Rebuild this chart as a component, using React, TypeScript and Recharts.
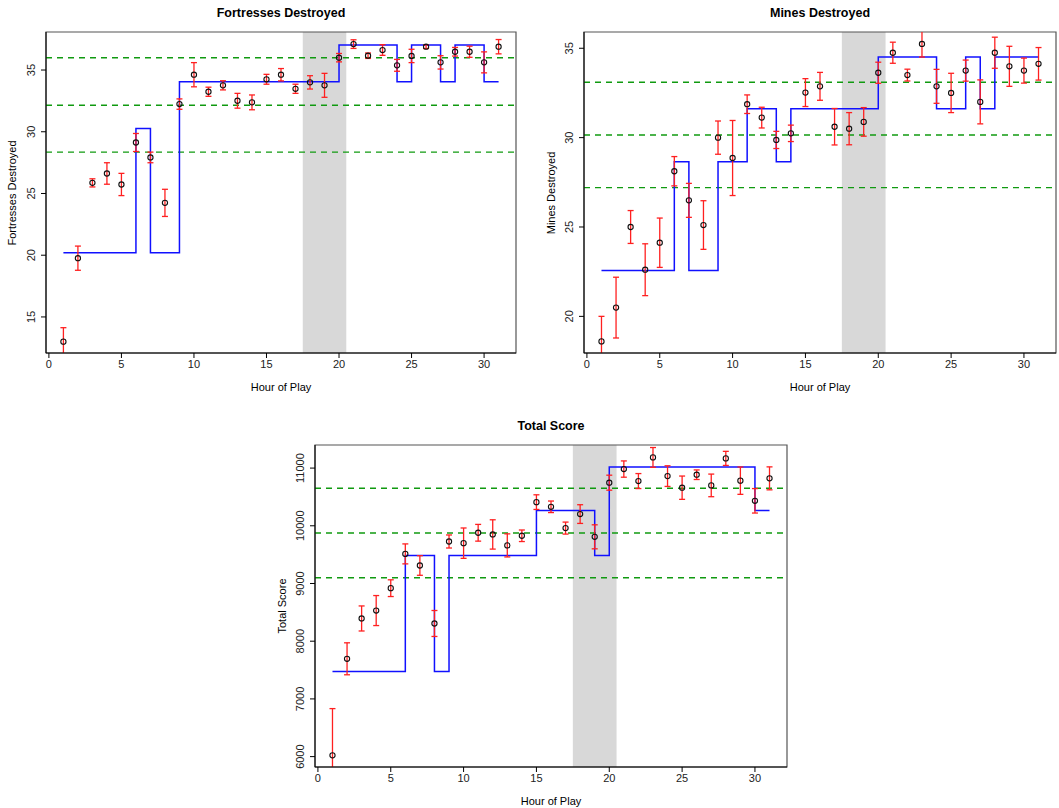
import {
  ComposedChart,
  Scatter,
  ErrorBar,
  Line,
  XAxis,
  YAxis,
  ReferenceLine,
  ReferenceArea,
} from 'recharts'

const hours = [
  1, 2, 3, 4, 5, 6, 7, 8, 9, 10, 11, 12, 13, 14, 15, 16, 17, 18, 19, 20, 21, 22, 23, 24, 25, 26, 27,
  28, 29, 30, 31,
]
const hourTicks = [0, 5, 10, 15, 20, 25, 30]
const hourDomain = [-0.2, 32.2]
const shadedHours = [17.5, 20.5]

// Fortresses destroyed
const fortMean = [
  13.0, 19.76, 25.86, 26.62, 25.73, 29.13, 27.92, 24.24, 32.24, 34.62, 33.24, 33.76, 32.51, 32.38,
  34.25, 34.62, 33.48, 34.0, 33.76, 36.0, 37.1, 36.16, 36.62, 35.38, 36.14, 36.89, 35.62, 36.48,
  36.48, 35.62, 36.89,
]
const fortErr = [
  1.13, 0.98, 0.33, 0.87, 0.9, 0.73, 0.43, 1.1, 0.42, 0.98, 0.37, 0.37, 0.6, 0.6, 0.4, 0.5, 0.37,
  0.54, 0.97, 0.34, 0.35, 0.22, 0.43, 0.48, 0.54, 0.15, 0.54, 0.35, 0.45, 0.85, 0.58,
]
const fortStepHours = [1, 6, 7, 9, 20, 24, 25, 27, 28, 30, 31]
const fortStepLevels = [20.2, 30.27, 20.2, 34.05, 37.03, 34.05, 37.03, 34.05, 37.03, 34.05, 34.05]
const fortRefs = [36.0, 32.15, 28.35]
const fortTicks = [15, 20, 25, 30, 35]

// Mines destroyed
const minesMean = [
  18.6, 20.49, 25.0, 22.61, 24.12, 28.12, 26.49, 25.11, 30.0, 28.86, 31.87, 31.12, 29.87, 30.24,
  32.52, 32.87, 30.61, 30.5, 30.88, 33.63, 34.75, 33.5, 35.24, 32.87, 32.5, 33.75, 32.0, 34.75,
  33.99, 33.75, 34.13,
]
const minesErr = [
  1.4, 1.7, 0.92, 1.45, 1.38, 0.82, 0.95, 1.36, 0.93, 2.1, 0.52, 0.58, 0.48, 0.46, 0.78, 0.78, 1.02,
  0.9, 0.8, 0.59, 0.59, 0.33, 0.73, 0.95, 1.1, 0.59, 1.23, 0.87, 1.12, 0.7, 0.91,
]
const minesStepHours = [1, 6, 7, 9, 11, 13, 14, 20, 24, 26, 27, 28, 31]
const minesStepLevels = [
  22.57, 28.65, 22.57, 28.65, 31.62, 28.65, 31.62, 34.51, 31.62, 34.51, 31.62, 34.51, 34.51,
]
const minesRefs = [33.1, 30.15, 27.2]
const minesTicks = [20, 25, 30, 35]

// Total score
const scoreMean = [
  6022, 7695, 8394, 8531, 8919, 9513, 9312, 8307, 9728, 9699, 9879, 9850, 9660, 9827, 10410, 10329,
  9960, 10203, 9809, 10747, 10983, 10775, 11185, 10861, 10660, 10885, 10700, 11168, 10782, 10433,
  10822,
]
const scoreErr = [
  810, 277, 217, 260, 145, 173, 170, 225, 113, 263, 145, 254, 200, 100, 127, 100, 104, 162, 208, 130,
  141, 130, 171, 179, 202, 83, 196, 122, 237, 212, 199,
]
const scoreStepHours = [1, 6, 8, 9, 15, 19, 20, 30, 31]
const scoreStepLevels = [7475, 9485, 7475, 9485, 10267, 9485, 11017, 10267, 10267]
const scoreRefs = [10650, 9875, 9100]
const scoreTicks = [6000, 7000, 8000, 9000, 10000, 11000]

const FONT = '"Liberation Sans", Arial, Helvetica, sans-serif'
const ERR_COLOR = '#ff2020'

const YTick = (props: any) => {
  const { x, y, payload } = props
  const bx = x - 6
  return (
    <text
      x={bx}
      y={y}
      transform={`rotate(-90 ${bx} ${y})`}
      textAnchor="middle"
      fontSize={11}
      fill="#222"
      fontFamily={FONT}
    >
      {payload.value}
    </text>
  )
}

const Dot = (props: any) => (
  <circle cx={props.cx} cy={props.cy} r={2.6} fill="none" stroke="#111" strokeWidth={1.1} />
)

type PanelProps = {
  id: string
  left: number
  top: number
  width: number
  height: number
  marginTop: number
  marginRight: number
  yAxisWidth: number
  xAxisHeight: number
  title: string
  yLabel: string
  yLabelX: number
  mean: number[]
  err: number[]
  stepHours: number[]
  stepLevels: number[]
  refs: number[]
  yDomain: number[]
  yTicks: number[]
}

function Panel(p: PanelProps) {
  const points = hours.map((h, i) => ({ hour: h, mean: p.mean[i], err: p.err[i] }))
  const steps = p.stepHours.map((h, i) => ({ hour: h, level: p.stepLevels[i] }))
  const plotLeft = p.left + p.yAxisWidth
  const plotRight = p.left + p.width - p.marginRight
  const plotTop = p.top + p.marginTop
  const plotBottom = p.top + p.height - p.xAxisHeight
  const cx = (plotLeft + plotRight) / 2
  const cy = (plotTop + plotBottom) / 2
  const clipId = `${p.id}-errclip`

  // error bars are clipped to the plot box, like the original
  const css = `#${p.id} .recharts-errorBar, #${p.id} .recharts-errorBars, #${p.id} line[stroke="${ERR_COLOR}"] { clip-path: url(#${clipId}); }`

  return (
    <>
      <style>{css}</style>
      <svg width={0} height={0} style={{ position: 'absolute' }}>
        <defs>
          <clipPath id={clipId} clipPathUnits="userSpaceOnUse">
            <rect
              x={p.yAxisWidth}
              y={p.marginTop}
              width={plotRight - plotLeft}
              height={plotBottom - plotTop}
            />
          </clipPath>
        </defs>
      </svg>
      <div
        style={{
          position: 'absolute',
          left: cx,
          top: plotTop - 19,
          transform: 'translate(-50%, -50%)',
          fontFamily: FONT,
          fontSize: 12.5,
          fontWeight: 'bold',
          whiteSpace: 'nowrap',
        }}
      >
        {p.title}
      </div>
      <div
        style={{
          position: 'absolute',
          left: cx,
          top: plotBottom + 34,
          transform: 'translate(-50%, -50%)',
          fontFamily: FONT,
          fontSize: 11,
          whiteSpace: 'nowrap',
        }}
      >
        Hour of Play
      </div>
      <div
        style={{
          position: 'absolute',
          left: p.yLabelX,
          top: cy,
          transform: 'translate(-50%, -50%) rotate(-90deg)',
          fontFamily: FONT,
          fontSize: 11,
          whiteSpace: 'nowrap',
        }}
      >
        {p.yLabel}
      </div>
      <div id={p.id} style={{ position: 'absolute', left: p.left, top: p.top }}>
        <ComposedChart
          width={p.width}
          height={p.height}
          margin={{ top: p.marginTop, right: p.marginRight, bottom: 0, left: 0 }}
          style={{ fontFamily: FONT }}
        >
          <XAxis
            dataKey="hour"
            type="number"
            domain={hourDomain}
            ticks={hourTicks}
            interval={0}
            allowDataOverflow
            height={p.xAxisHeight}
            tickSize={5}
            tickMargin={2}
            tick={{ fontSize: 11, fill: '#222' }}
            axisLine={{ stroke: '#000' }}
            tickLine={{ stroke: '#000' }}
          />
          <YAxis
            type="number"
            domain={p.yDomain}
            ticks={p.yTicks}
            interval={0}
            allowDataOverflow
            width={p.yAxisWidth}
            tickSize={5}
            tickMargin={0}
            tick={<YTick />}
            axisLine={{ stroke: '#000' }}
            tickLine={{ stroke: '#000' }}
          />
          <ReferenceArea
            x1={shadedHours[0]}
            x2={shadedHours[1]}
            fill="#d8d8d8"
            fillOpacity={1}
            stroke="none"
          />
          {p.refs.map((v) => (
            <ReferenceLine
              key={v}
              y={v}
              stroke="#109a10"
              strokeWidth={1.4}
              strokeDasharray="6 5"
            />
          ))}
          <Line
            data={steps}
            dataKey="level"
            type="stepAfter"
            stroke="#1010ff"
            strokeWidth={1.5}
            dot={false}
            activeDot={false}
            isAnimationActive={false}
          />
          <Scatter data={points} dataKey="mean" shape={<Dot />} isAnimationActive={false}>
            <ErrorBar
              dataKey="err"
              direction="y"
              width={3}
              stroke={ERR_COLOR}
              strokeWidth={1.3}
              isAnimationActive={false}
            />
          </Scatter>
          <ReferenceArea
            x1={hourDomain[0]}
            x2={hourDomain[1]}
            y1={p.yDomain[0]}
            y2={p.yDomain[1]}
            fill="none"
            stroke="#555"
            strokeWidth={1.2}
            ifOverflow="visible"
          />
        </ComposedChart>
      </div>
    </>
  )
}

export default function App() {
  return (
    <div style={{ position: 'absolute', left: 0, top: 0, width: 1059, height: 808, background: '#fff' }}>
      <Panel
        id="fortPanel"
        left={0}
        top={0}
        width={530}
        height={400}
        marginTop={32}
        marginRight={14}
        yAxisWidth={46}
        xAxisHeight={47}
        title="Fortresses Destroyed"
        yLabel="Fortresses Destroyed"
        yLabelX={12}
        mean={fortMean}
        err={fortErr}
        stepHours={fortStepHours}
        stepLevels={fortStepLevels}
        refs={fortRefs}
        yDomain={[12.08, 38.08]}
        yTicks={fortTicks}
      />
      <Panel
        id="minesPanel"
        left={540}
        top={0}
        width={519}
        height={400}
        marginTop={32}
        marginRight={3}
        yAxisWidth={44}
        xAxisHeight={47}
        title="Mines Destroyed"
        yLabel="Mines Destroyed"
        yLabelX={551}
        mean={minesMean}
        err={minesErr}
        stepHours={minesStepHours}
        stepLevels={minesStepLevels}
        refs={minesRefs}
        yDomain={[17.95, 35.91]}
        yTicks={minesTicks}
      />
      <Panel
        id="scorePanel"
        left={270}
        top={410}
        width={530}
        height={398}
        marginTop={35}
        marginRight={13}
        yAxisWidth={45}
        xAxisHeight={41}
        title="Total Score"
        yLabel="Total Score"
        yLabelX={282}
        mean={scoreMean}
        err={scoreErr}
        stepHours={scoreStepHours}
        stepLevels={scoreStepLevels}
        refs={scoreRefs}
        yDomain={[5820, 11400]}
        yTicks={scoreTicks}
      />
    </div>
  )
}
